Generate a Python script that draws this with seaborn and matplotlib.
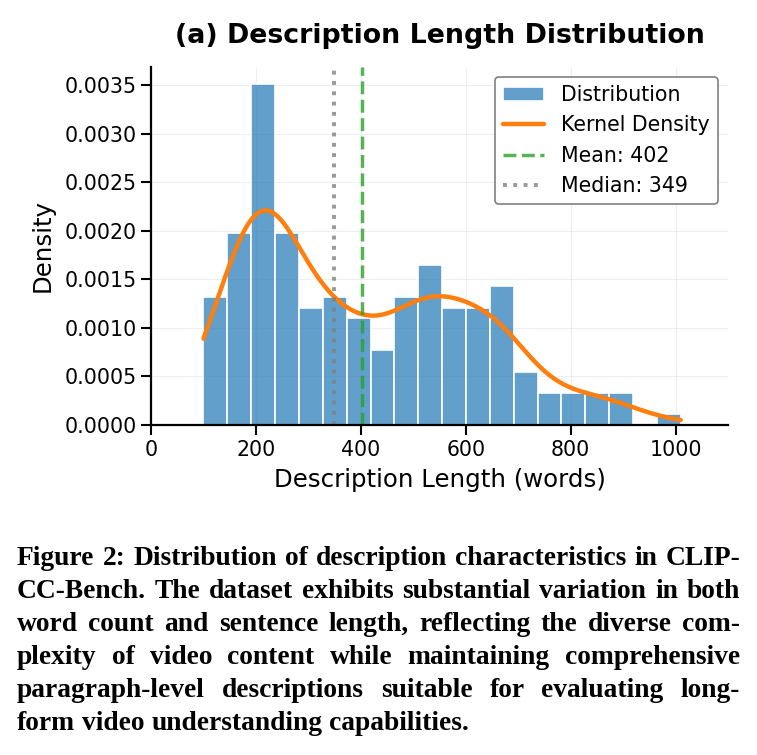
import numpy as np
import matplotlib
matplotlib.use("Agg")
import matplotlib.pyplot as plt
from matplotlib.ticker import FormatStrFormatter
import seaborn as sns


# ── Data ────────────────────────────────────────────────
bin_edges = [100, 145.5, 191, 236.5, 282, 327.5, 373, 418.5, 464, 509.5,
             555, 600.5, 646, 691.5, 737, 782.5, 828, 873.5, 919, 964.5, 1010]
bin_counts = [12, 18, 32, 18, 11, 12, 10, 7, 12, 15,
              11, 11, 13, 5, 3, 3, 3, 3, 0, 1]
mean_words = 402
median_words = 349
x_ticks = [0, 200, 400, 600, 800, 1000]

caption_lines = [
    "Figure 2: Distribution of description characteristics in CLIP-",
    "CC-Bench. The dataset exhibits substantial variation in both",
    "word count and sentence length, reflecting the diverse com-",
    "plexity of video content while maintaining comprehensive",
    "paragraph-level descriptions suitable for evaluating long-",
    "form video understanding capabilities.",
]

# ── Style ───────────────────────────────────────────────
sns.set_style("ticks")
plt.rcParams["font.family"] = ["DejaVu Sans"]
plt.rcParams.update({
    "text.color": "black",
    "axes.labelcolor": "black",
    "axes.edgecolor": "black",
    "xtick.color": "black",
    "ytick.color": "black",
})
COLORS = {
    "hist": "#1f77b4",
    "kde": "#ff7f0e",
    "mean": "#2ca02c",
    "median": "gray",
}

# one word per bin centre, repeated by its count
centers = [(a + b) / 2 for a, b in zip(bin_edges[:-1], bin_edges[1:])]
lengths = np.repeat(centers, bin_counts)

W, H = 757, 755
fig = plt.figure(figsize=(W / 100, H / 100), dpi=100)
ax = fig.add_axes([151 / W, 1 - 425 / H, (728 - 151) / W, (425 - 66.7) / H])

sns.histplot(x=lengths, bins=bin_edges, stat="density", color=COLORS["hist"],
             alpha=0.7, edgecolor="white", linewidth=1.2,
             label="Distribution", ax=ax)
sns.kdeplot(x=lengths, clip=(bin_edges[0], bin_edges[-1]), bw_adjust=0.85,
            color=COLORS["kde"], linewidth=3.2, label="Kernel Density", ax=ax)
ax.axvline(mean_words, color=COLORS["mean"], linestyle="--", linewidth=2.5,
           alpha=0.8, label=f"Mean: {mean_words}")
ax.axvline(median_words, color=COLORS["median"], linestyle=":", linewidth=2.8,
           alpha=0.8, label=f"Median: {median_words}")

ax.set_xlim(0, 1100)
ax.set_xticks(x_ticks)
ax.yaxis.set_major_formatter(FormatStrFormatter("%.4f"))
ax.set_xlabel("Description Length (words)", fontsize=17.6, labelpad=6)
ax.set_ylabel("Density", fontsize=17.6, labelpad=7)
ax.set_title("(a) Description Length Distribution", fontsize=19.3,
             fontweight="bold", pad=17)
ax.tick_params(labelsize=14.8, width=1.5, length=7)
for side in ["left", "bottom"]:
    ax.spines[side].set_linewidth(1.6)
sns.despine(ax=ax)
ax.grid(True, alpha=0.3)
ax.set_axisbelow(True)

handles, labels = ax.get_legend_handles_labels()
order = ["Distribution", "Kernel Density",
         f"Mean: {mean_words}", f"Median: {median_words}"]
hmap = dict(zip(labels, handles))
leg = ax.legend([hmap[k] for k in order], order, loc="upper right",
                fontsize=14.8, framealpha=1, edgecolor="gray")
leg.get_frame().set_linewidth(1.2)

# ── Caption, justified between the two margins ──────────
fig.canvas.draw()
renderer = fig.canvas.get_renderer()
left_px, right_px = 17, 740
cap_kw = dict(fontweight="bold", family=["Liberation Serif"],
              va="baseline", ha="left")

# largest size (up to 20.5 pt) at which every line still fits
size = 20.5
widest = 0
for line in caption_lines:
    t = fig.text(0, 0, line, fontsize=size, **cap_kw)
    widest = max(widest, t.get_window_extent(renderer).width)
    t.remove()
size = min(size, size * (right_px - left_px) * 0.99 / widest)

probe1 = fig.text(0, 0, "x x", fontsize=size, **cap_kw)
probe2 = fig.text(0, 0, "xx", fontsize=size, **cap_kw)
space_px = (probe1.get_window_extent(renderer).width
            - probe2.get_window_extent(renderer).width)
probe1.remove()
probe2.remove()

for i, line in enumerate(caption_lines):
    y = 1 - (565 + 33 * i) / H
    words = line.split()
    texts = [fig.text(0, y, w, fontsize=size, **cap_kw) for w in words]
    widths = [t.get_window_extent(renderer).width for t in texts]
    if i < len(caption_lines) - 1:
        gap = (right_px - left_px - sum(widths)) / (len(words) - 1)
    else:
        gap = space_px
    x = left_px
    for t, w in zip(texts, widths):
        t.set_x(x / W)
        x += w + gap

fig.savefig("out.png", dpi=100)
plt.close(fig)
